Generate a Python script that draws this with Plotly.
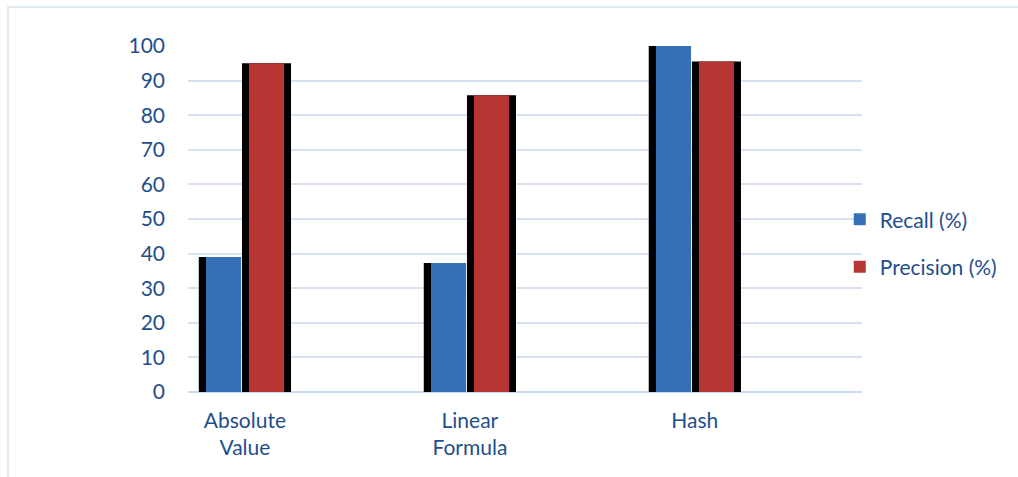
import plotly.graph_objects as go

categories = ["Absolute<br>Value", "Linear<br>Formula", "Hash"]
recall = [39, 37.3, 100]
precision = [95, 85.8, 95.5]

font_family = "Lato, 'Open Sans', sans-serif"
text_color = "#1f4e8c"

fig = go.Figure()

# black bevel/shadow bars behind faces
fig.add_trace(go.Bar(x=categories, y=recall, offset=-0.205, width=0.187,
                     marker=dict(color="#000000", line=dict(width=0)),
                     showlegend=False, hoverinfo="skip"))
fig.add_trace(go.Bar(x=categories, y=precision, offset=-0.013, width=0.218,
                     marker=dict(color="#000000", line=dict(width=0)),
                     showlegend=False, hoverinfo="skip"))
# coloured faces
fig.add_trace(go.Bar(x=categories, y=recall, name="Recall (%)", offset=-0.173, width=0.156,
                     marker=dict(color="#3670b6", line=dict(width=0)),
                     legendgroup="r"))
fig.add_trace(go.Bar(x=categories, y=precision, name="Precision (%)", offset=0.018, width=0.156,
                     marker=dict(color="#b73533", line=dict(width=0)),
                     legendgroup="p"))

fig.update_layout(
    width=1018, height=477,
    barmode="overlay",
    margin=dict(l=188, r=156, t=46, b=85),
    paper_bgcolor="white", plot_bgcolor="white",
    font=dict(family=font_family, size=21, color=text_color),
    legend=dict(x=0.967, y=0.43, xanchor="left", yanchor="middle",
                font=dict(size=21, color=text_color), tracegroupgap=17,
                itemwidth=30, bgcolor="rgba(0,0,0,0)"),
    xaxis=dict(range=[-0.253, 2.743], showgrid=False, showline=False, ticks="",
               ticklabelstandoff=14, tickfont=dict(size=21, color=text_color)),
    yaxis=dict(range=[0, 100], dtick=10, showgrid=True, gridcolor="#d6e2f1", gridwidth=2,
               zeroline=True, zerolinecolor="#c9daee", zerolinewidth=2,
               showline=False, ticks="", ticklabelstandoff=22,
               tickfont=dict(size=21, color=text_color)),
    shapes=[dict(type="rect", xref="paper", yref="paper",
                 x0=(8 - 188) / 674, x1=(1030 - 188) / 674,
                 y0=(392 - 490) / 346, y1=(392 - 7) / 346,
                 line=dict(color="#d6e2f1", width=1.5), layer="below")],
)

fig.write_html("out.html")
